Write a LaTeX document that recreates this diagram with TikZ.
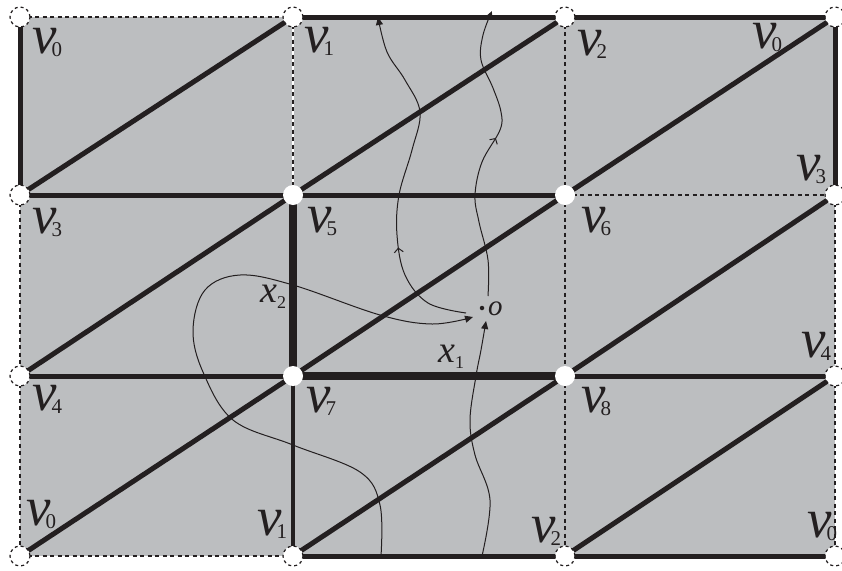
\documentclass[tikz,border=0pt]{standalone}
\usepackage{fontspec}
\setmainfont{Liberation Serif}
\usetikzlibrary{arrows.meta, decorations.markings}

\definecolor{cellgray}{RGB}{188,190,192}
\definecolor{inkblack}{RGB}{35,31,32}

\newcommand{\vlab}[1]{{\fontsize{55}{55}\selectfont\itshape v}\kern-5pt{\fontsize{21}{21}\selectfont\raisebox{-3pt}{#1}}}
\newcommand{\xlab}[1]{{\fontsize{38}{38}\selectfont\itshape x}\kern0pt{\fontsize{18}{18}\selectfont\raisebox{-6pt}{#1}}}

\begin{document}
\begin{tikzpicture}[
    x=1pt, y=-1pt,
    edge/.style={draw=inkblack, line width=5pt},
    xedge/.style={draw=inkblack, line width=7.5pt},
    diag/.style={draw=inkblack, line width=5pt},
    bnd/.style={draw=inkblack, line width=1.4pt, dash pattern=on 4pt off 3.5pt},
    vtx/.style={circle, fill=white, minimum size=20pt, inner sep=0pt},
    outvtx/.style={vtx, draw=inkblack, line width=1.2pt, dash pattern=on 3pt off 3pt},
    lbl/.style={anchor=base west, inner sep=0pt, text=inkblack},
    flow/.style={draw=inkblack, line width=1pt},
    tip/.style={-{Triangle[length=8pt, width=7pt]}},
    midarrow/.style={postaction={decorate, decoration={markings,
        mark=at position #1 with {\arrow{Straight Barb[length=4pt, width=9pt, line width=1pt]}}}}},
    odot/.style={circle, fill=inkblack, minimum size=4.5pt, inner sep=0pt}
  ]
    \useasboundingbox (0,0) rectangle (842,570);

    % Grid points
    \foreach \c/\x in {0/20, 1/293, 2/565, 3/835}
      \foreach \r/\y in {0/17, 1/195, 2/376, 3/556}
        \coordinate (g-\c-\r) at (\x,\y);

    % Gray cells
    \fill[cellgray] (g-0-0) rectangle (g-3-3);

    % Diagonals
    \foreach \c/\cc in {0/1, 1/2, 2/3}
      \foreach \r/\rr in {0/1, 1/2, 2/3}
        \draw[diag] (g-\c-\rr) -- (g-\cc-\r);

    % Dashed edges
    \draw[white, line width=2.5pt] (g-1-0) -- (g-1-1);
    \draw[bnd] (g-0-0) -- (g-1-0);
    \draw[bnd] (g-2-1) -- (g-3-1);
    \draw[bnd] (g-0-3) -- (g-1-3);
    \draw[bnd] (g-0-1) -- (g-0-2);
    \draw[bnd] (g-0-2) -- (g-0-3);
    \draw[bnd] (g-1-0) -- (g-1-1);
    \draw[bnd] (g-2-0) -- (g-2-1);
    \draw[bnd] (g-2-1) -- (g-2-2);
    \draw[bnd] (g-2-2) -- (g-2-3);
    \draw[bnd] (g-3-1) -- (g-3-2);
    \draw[bnd] (g-3-2) -- (g-3-3);

    % Thick edges
    \draw[edge] (g-1-0) -- (g-2-0);
    \draw[edge] (g-2-0) -- (g-3-0);
    \draw[edge] (g-0-1) -- (g-1-1);
    \draw[edge] (g-1-1) -- (g-2-1);
    \draw[edge] (g-0-2) -- (g-1-2);
    \draw[edge] (g-2-2) -- (g-3-2);
    \draw[edge] (g-1-3) -- (g-2-3);
    \draw[edge] (g-2-3) -- (g-3-3);
    \draw[edge] (g-0-0) -- (g-0-1);
    \draw[edge] (g-3-0) -- (g-3-1);
    \draw[edge, line width=4pt] (g-1-2) -- (g-1-3);

    % Edges x1 and x2
    \draw[xedge] (g-1-2) -- (g-2-2);
    \draw[xedge] (g-1-1) -- (g-1-2);

    % Vertices
    \foreach \c/\r in {0/0, 1/0, 2/0, 3/0, 0/1, 3/1, 0/2, 3/2, 0/3, 1/3, 2/3, 3/3}
      \node[outvtx] (n-\c-\r) at (g-\c-\r) {};
    \foreach \c/\r in {1/1, 2/1, 1/2, 2/2}
      \node[vtx] (n-\c-\r) at (g-\c-\r) {};

    % Vertex labels
    \node[lbl] (v0tl) at (32,53) {\vlab{0}};
    \node[lbl] (v1t) at (304,52) {\vlab{1}};
    \node[lbl] (v2t) at (577,55) {\vlab{2}};
    \node[lbl] (v0tr) at (752,48) {\vlab{0}};
    \node[lbl] (v3r) at (796,180) {\vlab{3}};
    \node[lbl] (v3l) at (32,233) {\vlab{3}};
    \node[lbl] (v5) at (307,232) {\vlab{5}};
    \node[lbl] (v6) at (581,232) {\vlab{6}};
    \node[lbl] (v4r) at (801,357) {\vlab{4}};
    \node[lbl] (v4l) at (32,410) {\vlab{4}};
    \node[lbl] (v7) at (306,412) {\vlab{7}};
    \node[lbl] (v8) at (581,412) {\vlab{8}};
    \node[lbl] (v0bl) at (26,525) {\vlab{0}};
    \node[lbl] (v1b) at (257,535) {\vlab{1}};
    \node[lbl] (v2b) at (531,542) {\vlab{2}};
    \node[lbl] (v0br) at (807,537) {\vlab{0}};

    % Edge labels and the point o
    \node[lbl] (x2) at (260,302) {\xlab{2}};
    \node[lbl] (x1) at (438,362) {\xlab{1}};
    \node[odot] (o) at (482,308) {};
    \node[lbl] (olab) at (488,315) {\fontsize{29}{29}\selectfont\itshape o};

    % Ends of the paths
    \coordinate (b1) at (381,556);
    \coordinate (b2) at (482,556);
    \coordinate (t1) at (378,17);
    \coordinate (t2) at (492,11);
    \coordinate (oin1) at (473,317);
    \coordinate (oin2) at (486,321);
    \coordinate (oout1) at (466,313);
    \coordinate (oout2) at (488,296);

    % Paths through o
    \draw[flow, tip] plot[smooth, tension=0.6] coordinates {(b1) (380,505) (360,472) (293,445) (233,420) (203,372) (193,330) (205,290) (240,275) (293,285) (380,315) (432,324) (oin1)};
    \draw[flow, tip, midarrow=0.3] plot[smooth, tension=0.6] coordinates {(oout1) (428,303) (405,275) (397,235) (399,195) (412,150) (420,112) (405,80) (387,52) (t1)};
    \draw[flow, tip] plot[smooth, tension=0.6] coordinates {(b2) (490,500) (475,455) (470,420) (476,376) (481,350) (oin2)};
    \draw[flow, tip, midarrow=0.55] plot[smooth, tension=0.6] coordinates {(oout2) (488,260) (479,222) (475,195) (482,162) (500,130) (501,112) (493,88) (481,60) (483,35) (t2)};

  \end{tikzpicture}
\end{document}
